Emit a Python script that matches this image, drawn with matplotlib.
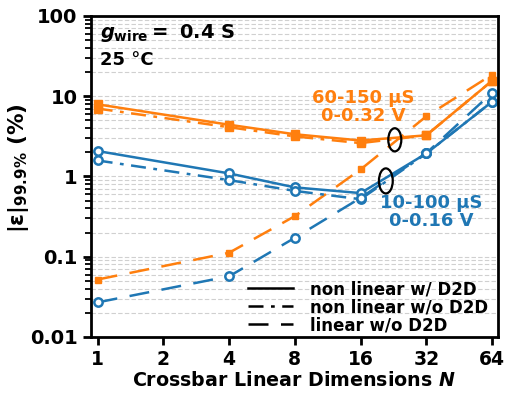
import matplotlib
matplotlib.use("Agg")
import matplotlib.pyplot as plt
from matplotlib.patches import Ellipse
from matplotlib.lines import Line2D

plt.rcParams['font.family'] = ['DejaVu Sans']
plt.rcParams['font.weight'] = 'bold'
plt.rcParams['mathtext.fontset'] = 'custom'
plt.rcParams['mathtext.rm'] = 'DejaVu Sans:bold'
plt.rcParams['mathtext.bf'] = 'DejaVu Sans:bold'
plt.rcParams['mathtext.it'] = 'DejaVu Sans:italic:bold'
plt.rcParams['mathtext.default'] = 'bf'

N = [1, 4, 8, 16, 32, 64]
xtick_vals = [1, 2, 4, 8, 16, 32, 64]
xtick_labels = ['1', '2', '4', '8', '16', '32', '64']
ytick_vals = [0.01, 0.1, 1, 10, 100]
ytick_labels = ['0.01', '0.1', '1', '10', '100']

# orange: 60-150 uS, 0-0.32 V
orange_nl_d2d = [7.9, 4.4, 3.35, 2.8, 3.25, 15.5]
orange_nl_nod2d = [7.0, 4.1, 3.15, 2.6, 3.25, 15.5]
orange_lin_nod2d = [0.052, 0.112, 0.32, 1.22, 5.6, 18.5]
# blue: 10-100 uS, 0-0.16 V
blue_nl_d2d = [2.07, 1.09, 0.73, 0.62, 1.93, 8.5]
blue_nl_nod2d = [1.58, 0.9, 0.66, 0.52, 1.93, 8.5]
blue_lin_nod2d = [0.027, 0.057, 0.172, 0.54, 1.95, 11.0]

ORANGE = '#ff7f0e'
BLUE = '#1f77b4'
DASHDOT = (0, (6, 3, 1.5, 3))
DASHED = (0, (8, 5))

fig = plt.figure(figsize=(5.1, 3.96), dpi=100)
ax = fig.add_axes([0.178, 0.149, 0.798, 0.811])

lw = 1.8
ax.plot(N, orange_nl_d2d, color=ORANGE, ls='-', lw=lw, marker='s', ms=6, mfc=ORANGE, mec=ORANGE)
ax.plot(N, orange_nl_nod2d, color=ORANGE, ls=DASHDOT, lw=lw, marker='s', ms=6, mfc=ORANGE, mec=ORANGE)
ax.plot(N, orange_lin_nod2d, color=ORANGE, ls=DASHED, lw=lw, marker='s', ms=5, mfc=ORANGE, mec=ORANGE)
ax.plot(N, blue_nl_d2d, color=BLUE, ls='-', lw=lw, marker='o', ms=6, mfc='white', mec=BLUE, mew=1.8)
ax.plot(N, blue_nl_nod2d, color=BLUE, ls=DASHDOT, lw=lw, marker='o', ms=6, mfc='white', mec=BLUE, mew=1.8)
ax.plot(N, blue_lin_nod2d, color=BLUE, ls=DASHED, lw=lw, marker='o', ms=6, mfc='white', mec=BLUE, mew=1.8)

ax.set_xscale('log', base=2)
ax.set_yscale('log')
ax.set_xlim(0.93, 68)
ax.set_ylim(0.01, 100)
ax.set_xticks(xtick_vals)
ax.set_xticklabels(xtick_labels)
ax.xaxis.set_minor_locator(matplotlib.ticker.NullLocator())
ax.set_yticks(ytick_vals)
ax.set_yticklabels(ytick_labels)
ax.tick_params(axis='both', which='major', width=2, length=6, direction='out')
ax.tick_params(axis='x', which='major', labelsize=13.5)
ax.tick_params(axis='y', which='major', labelsize=14)
ax.tick_params(axis='y', which='minor', width=1.3, length=4, direction='out')
for s in ax.spines.values():
    s.set_linewidth(2)
ax.grid(True, which='both', axis='y', ls=(0, (4, 2)), color='#d0d0d0', lw=0.8)
ax.set_axisbelow(True)

ax.set_xlabel(r'Crossbar Linear Dimensions $\mathit{N}$', fontsize=13.7, fontweight='bold', labelpad=1)
ax.set_ylabel(r'$|\varepsilon|_{99.9\%}$ (%)', fontsize=15.5, fontweight='bold')
ax.yaxis.set_label_coords(-0.147, 0.526)

ax.text(0.022, 0.947, r'$\mathit{g}_{\mathrm{wire}}=$ 0.4 S', transform=ax.transAxes,
        fontsize=14, fontweight='bold', va='center', ha='left')
ax.text(0.022, 0.862, '25 °C', transform=ax.transAxes, fontsize=13, fontweight='bold',
        va='center', ha='left')

ax.text((363 - 91) / 407, (337 - 107) / 321, '60-150 µS\n0-0.32 V', transform=ax.transAxes,
        color=ORANGE, fontsize=13, fontweight='bold', ha='center', va='center', linespacing=1.0)
ax.text((431 - 91) / 407, (337 - 212) / 321, '10-100 µS\n0-0.16 V', transform=ax.transAxes,
        color=BLUE, fontsize=13, fontweight='bold', ha='center', va='center', linespacing=1.0)

ax.add_patch(Ellipse((0.747, 0.614), 0.032, 0.072, transform=ax.transAxes, fill=False,
                     ec='black', lw=1.6, zorder=5))
ax.add_patch(Ellipse((0.725, 0.486), 0.034, 0.078, transform=ax.transAxes, fill=False,
                     ec='black', lw=1.6, zorder=5))

handles = [Line2D([], [], color='black', ls='-', lw=1.8),
           Line2D([], [], color='black', ls=DASHDOT, lw=1.8),
           Line2D([], [], color='black', ls=DASHED, lw=1.8)]
labels = ['non linear w/ D2D', 'non linear w/o D2D', 'linear w/o D2D']
ax.legend(handles, labels, loc='lower right', bbox_to_anchor=(1.0, -0.022), frameon=False,
          handlelength=2.7, handletextpad=1.0, labelspacing=0.0,
          borderaxespad=0.2, prop={'weight': 'bold', 'size': 12})

fig.savefig('out.png', dpi=100)
